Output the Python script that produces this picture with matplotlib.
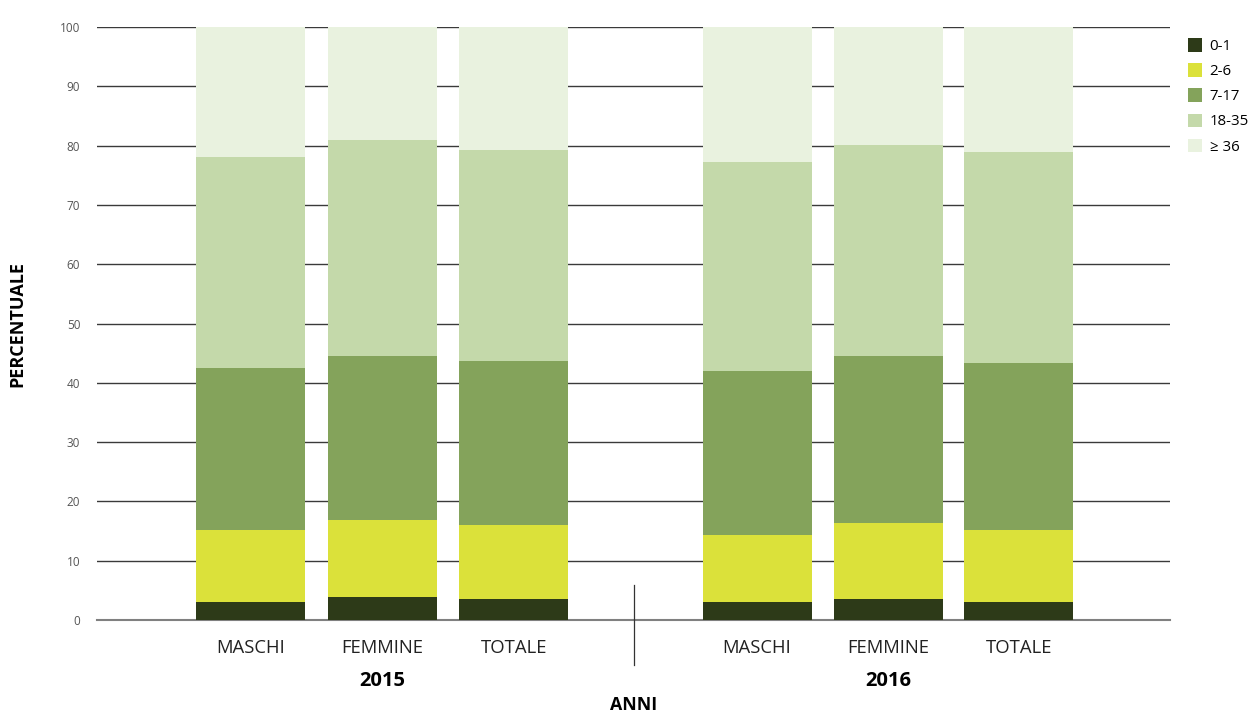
import matplotlib.pyplot as plt
from matplotlib.patches import Patch
import numpy as np

# Data (percent of each group)
categories = ["MASCHI", "FEMMINE", "TOTALE", "MASCHI", "FEMMINE", "TOTALE"]
years = ["2015", "2016"]
age_groups = ["0-1", "2-6", "7-17", "18-35", "\u2265 36"]

age_0_1 = [3.0, 3.9, 3.5, 3.0, 3.5, 3.0]
age_2_6 = [12.2, 13.0, 12.5, 11.3, 12.9, 12.2]
age_7_17 = [27.3, 27.6, 27.7, 27.7, 28.1, 28.1]
age_18_35 = [35.6, 36.4, 35.6, 35.2, 35.6, 35.6]
age_36_plus = [21.9, 19.1, 20.7, 22.8, 19.9, 21.1]

colors = ["#2d3a18", "#dbe13a", "#84a35b", "#c4d9aa", "#e9f2df"]

plt.rcParams['font.family'] = ['Open Sans', 'DejaVu Sans']

fig = plt.figure(figsize=(12.52, 7.13), dpi=100)
ax = fig.add_axes([0.0775, 0.1304, 0.857, 0.8317])

x = np.array([0, 1, 2, 3.85, 4.85, 5.84])
width = 0.83

series = [age_0_1, age_2_6, age_7_17, age_18_35, age_36_plus]
bottom = np.zeros(len(x))
for vals, col, lab in zip(series, colors, age_groups):
    ax.bar(x, vals, width, bottom=bottom, color=col, label=lab, zorder=3)
    bottom += np.array(vals)

ax.set_xlim(-1.17, 6.99)
ax.set_ylim(0, 100)
ax.set_yticks(range(0, 101, 10))
ax.tick_params(axis='y', length=0, pad=12, labelsize=8.5, labelcolor='#555555')
ax.yaxis.grid(True, color='#3a3a3a', linewidth=1, zorder=0)
ax.set_axisbelow(True)
for s in ax.spines.values():
    s.set_visible(False)
# baseline at zero
ax.axhline(0, color='#808080', linewidth=1.5, zorder=2, clip_on=False)

ax.set_xticks(x)
ax.set_xticklabels(categories, fontsize=13.3, color='#222222')
ax.tick_params(axis='x', length=0, pad=14)

# year labels under each group
for yr, pos in zip(years, [x[1], x[4]]):
    ax.text(pos, -10.2, yr, ha='center', va='center', fontsize=14.5,
            fontweight='bold')

ax.text(2.91, -14.4, "ANNI", ha='center', va='center', fontsize=12.8,
        fontweight='bold')

# divider between the two years
ax.plot([2.91, 2.91], [5.9, -7.6], color='#333333', linewidth=0.9, clip_on=False)

ax.set_ylabel("PERCENTUALE", fontsize=13, fontweight='bold', labelpad=24)

handles = [Patch(facecolor=c, label=l) for c, l in zip(colors, age_groups)]
fig.legend(handles=handles, loc='upper left', bbox_to_anchor=(0.944, 0.955),
           frameon=False, fontsize=10.8, handlelength=0.95, handleheight=1.0,
           handletextpad=0.5, labelspacing=0.62, borderaxespad=0)

fig.savefig("out.png", dpi=100)
